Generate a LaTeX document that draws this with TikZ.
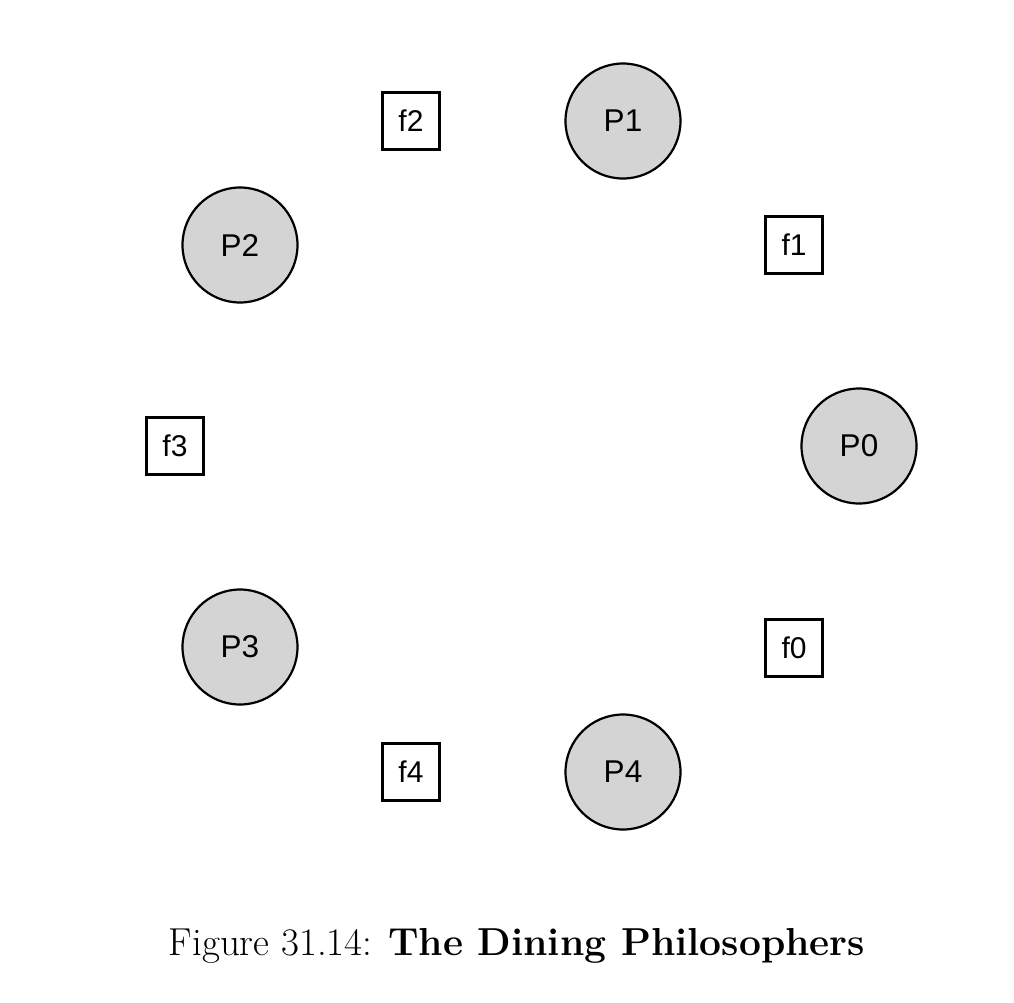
\documentclass[tikz,border=0pt]{standalone}
\usepackage{fontspec}
\setmainfont{Latin Modern Roman}
\newfontfamily\labfont{Liberation Sans}
\definecolor{philfill}{RGB}{212,212,212}
\begin{document}
\begin{tikzpicture}[x=1pt,y=-1pt,
  phil/.style={circle,draw=black,line width=2.2pt,fill=philfill,minimum size=115pt,inner sep=0pt,font=\labfont\fontsize{31.5}{31.5}\selectfont},
  fork/.style={rectangle,draw=black,line width=2.2pt,fill=white,minimum size=57pt,inner sep=0pt,font=\labfont\fontsize{30}{30}\selectfont}]
\useasboundingbox (0,0) rectangle (1014,1002);
\node[phil] (P1) at (623,121) {P1};
\node[phil] (P2) at (240,245) {P2};
\node[phil] (P0) at (859,446) {P0};
\node[phil] (P3) at (240,647) {P3};
\node[phil] (P4) at (623,772) {P4};
\node[fork] (f2) at (411,121) {f2};
\node[fork] (f1) at (794,245) {f1};
\node[fork] (f3) at (175,446) {f3};
\node[fork] (f0) at (794,648) {f0};
\node[fork] (f4) at (411,772) {f4};
\node[font=\fontsize{39}{39}\selectfont] (cap) at (517,946) {Figure 31.14: \textbf{The Dining Philosophers}};
\end{tikzpicture}
\end{document}
